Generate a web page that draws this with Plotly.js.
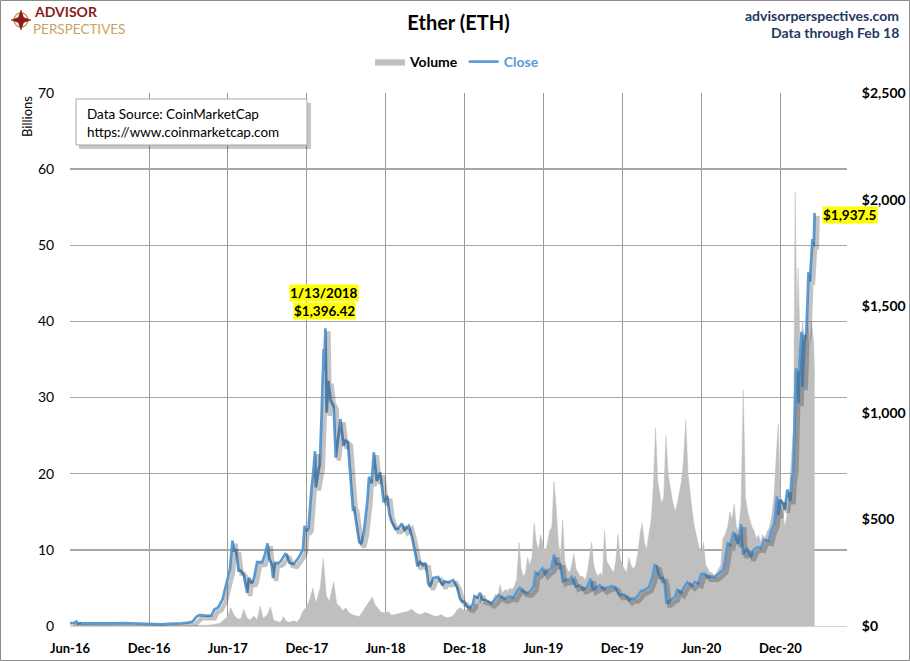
<!DOCTYPE html>
<html><head><meta charset="utf-8">
<script src="https://cdn.plot.ly/plotly-3.0.1.min.js"></script>
<style>html,body{margin:0;padding:0;background:#fff;}#chart{width:910px;height:661px;}</style>
</head><body><div id="chart"></div>
<script>
// ---------- DATA ----------
const priceDates = [
'2016-06-01','2016-06-10','2016-06-16','2016-06-18','2016-06-30','2016-07-15','2016-07-25','2016-08-01','2016-08-15','2016-09-01','2016-09-15','2016-10-01','2016-10-15','2016-11-01','2016-11-15','2016-12-01','2016-12-15','2016-12-31',
'2017-01-15','2017-02-01','2017-02-15','2017-03-01','2017-03-10','2017-03-15','2017-03-20','2017-03-26','2017-04-01','2017-04-15','2017-04-25','2017-05-01','2017-05-10','2017-05-20','2017-05-25','2017-06-01','2017-06-06','2017-06-12','2017-06-15','2017-06-20','2017-06-26','2017-07-01','2017-07-08','2017-07-16','2017-07-20','2017-07-27','2017-08-01','2017-08-08','2017-08-14','2017-08-20','2017-08-26','2017-09-01','2017-09-05','2017-09-10','2017-09-14','2017-09-18','2017-09-25','2017-10-01','2017-10-12','2017-10-15','2017-10-22','2017-11-01','2017-11-08','2017-11-15','2017-11-22','2017-11-26','2017-11-30','2017-12-05','2017-12-12','2017-12-15','2017-12-20','2017-12-22','2017-12-28','2017-12-31',
'2018-01-04','2018-01-09','2018-01-10','2018-01-13','2018-01-16','2018-01-20','2018-01-25','2018-02-01','2018-02-06','2018-02-10','2018-02-17','2018-02-24','2018-03-01','2018-03-06','2018-03-12','2018-03-18','2018-03-20','2018-03-28','2018-04-01','2018-04-06','2018-04-12','2018-04-20','2018-04-24','2018-04-30','2018-05-05','2018-05-12','2018-05-20','2018-05-28','2018-06-05','2018-06-10','2018-06-15','2018-06-24','2018-06-30','2018-07-09','2018-07-15','2018-07-25','2018-08-01','2018-08-10','2018-08-14','2018-08-20','2018-08-27','2018-09-02','2018-09-08','2018-09-12','2018-09-20','2018-10-01','2018-10-11','2018-10-15','2018-10-25','2018-11-05','2018-11-14','2018-11-20','2018-11-25','2018-11-30','2018-12-07','2018-12-14','2018-12-20','2018-12-24','2018-12-31',
'2019-01-06','2019-01-10','2019-01-20','2019-02-01','2019-02-08','2019-02-18','2019-02-24','2019-03-04','2019-03-15','2019-03-25','2019-04-02','2019-04-08','2019-04-15','2019-04-25','2019-05-01','2019-05-10','2019-05-14','2019-05-20','2019-05-30','2019-06-05','2019-06-12','2019-06-20','2019-06-26','2019-07-01','2019-07-10','2019-07-16','2019-07-22','2019-08-01','2019-08-06','2019-08-15','2019-08-25','2019-09-01','2019-09-10','2019-09-19','2019-09-24','2019-10-01','2019-10-10','2019-10-20','2019-10-26','2019-11-07','2019-11-15','2019-11-22','2019-11-25','2019-12-05','2019-12-17','2019-12-20','2019-12-31',
'2020-01-07','2020-01-14','2020-01-20','2020-01-31','2020-02-08','2020-02-14','2020-02-18','2020-02-26','2020-03-04','2020-03-08','2020-03-12','2020-03-16','2020-03-22','2020-04-01','2020-04-06','2020-04-15','2020-04-23','2020-04-30','2020-05-10','2020-05-18','2020-05-25','2020-06-01','2020-06-10','2020-06-15','2020-06-25','2020-07-01','2020-07-10','2020-07-22','2020-07-26','2020-08-01','2020-08-07','2020-08-14','2020-08-17','2020-08-25','2020-09-01','2020-09-05','2020-09-15','2020-09-23','2020-10-01','2020-10-10','2020-10-17','2020-10-25','2020-11-04','2020-11-10','2020-11-17','2020-11-23','2020-11-26','2020-12-01','2020-12-08','2020-12-11','2020-12-17','2020-12-24','2020-12-27','2020-12-31',
'2021-01-03','2021-01-06','2021-01-10','2021-01-12','2021-01-14','2021-01-19','2021-01-21','2021-01-25','2021-01-30','2021-02-04','2021-02-07','2021-02-10','2021-02-13','2021-02-16','2021-02-18'];
const priceClose = [
13.9,14.5,20.6,11.2,12.4,11.8,13.5,10.8,11.1,12.1,12.2,13.2,11.9,10.9,9.9,8.5,7.9,8.0,
9.8,10.7,12.8,16.0,19.2,28.5,42,50,50.6,48,50,77.5,87,125,170,222,265,400,350,360,260,260,240,155,225,200,225,300,300,300,335,388,315,295,225,295,295,302,338,335,296,291,310,330,360,470,445,460,650,700,820,650,730,756,
980,1300,1200,1396.42,1000,1150,1060,1030,790,860,970,845,870,860,720,540,560,450,395,385,440,585,700,670,815,680,720,580,610,525,490,455,455,480,450,470,420,330,280,300,285,295,200,185,225,230,190,210,205,215,180,130,115,115,90,84,100,140,133,
155,125,120,107,120,145,135,128,138,135,165,178,162,155,160,185,250,245,270,245,260,270,335,290,290,210,215,218,230,185,190,172,180,222,170,180,190,172,180,187,182,150,145,148,122,128,130,
144,165,167,180,223,285,282,225,225,200,110,110,122,135,170,155,185,205,188,207,200,245,245,230,232,230,242,265,310,387,380,435,430,385,477,335,365,320,360,370,366,405,400,447,480,608,520,590,573,545,640,586,685,737,
975,1208,1190,1045,1230,1380,1120,1320,1380,1660,1615,1745,1815,1780,1937.5];

const volumeDates = [
'2016-06-01','2016-09-01','2016-12-01','2017-03-01','2017-04-01','2017-04-15',
'2017-05-01','2017-05-08','2017-05-15','2017-05-22',
'2017-06-01','2017-06-08','2017-06-15','2017-06-22',
'2017-07-01','2017-07-08','2017-07-15','2017-07-22',
'2017-08-01','2017-08-08','2017-08-15','2017-08-22',
'2017-09-01','2017-09-08','2017-09-15','2017-09-22',
'2017-10-01','2017-10-08','2017-10-15','2017-10-22',
'2017-11-01','2017-11-08','2017-11-15','2017-11-22',
'2017-12-01','2017-12-08','2017-12-15','2017-12-22',
'2018-01-01','2018-01-08','2018-01-15','2018-01-22',
'2018-02-01','2018-02-08','2018-02-15','2018-02-22',
'2018-03-01','2018-03-08','2018-03-15','2018-03-22',
'2018-04-01','2018-04-08','2018-04-15','2018-04-22',
'2018-05-01','2018-05-08','2018-05-15','2018-05-22',
'2018-06-01','2018-06-08','2018-06-15','2018-06-22',
'2018-07-01','2018-07-08','2018-07-15','2018-07-22',
'2018-08-01','2018-08-08','2018-08-15','2018-08-22',
'2018-09-01','2018-09-08','2018-09-15','2018-09-22',
'2018-10-01','2018-10-08','2018-10-15','2018-10-22',
'2018-11-01','2018-11-08','2018-11-15','2018-11-22',
'2018-12-01','2018-12-08','2018-12-15','2018-12-22',
'2019-01-01','2019-01-06','2019-01-11','2019-01-16','2019-01-21','2019-01-26',
'2019-02-01','2019-02-06','2019-02-11','2019-02-16','2019-02-21','2019-02-26',
'2019-03-01','2019-03-06','2019-03-11','2019-03-16','2019-03-21','2019-03-26',
'2019-04-01','2019-04-06','2019-04-11','2019-04-16','2019-04-21','2019-04-26',
'2019-05-01','2019-05-06','2019-05-11','2019-05-16','2019-05-21','2019-05-26',
'2019-06-01','2019-06-06','2019-06-11','2019-06-16','2019-06-21','2019-06-26',
'2019-07-01','2019-07-06','2019-07-11','2019-07-16','2019-07-21','2019-07-26',
'2019-08-01','2019-08-06','2019-08-11','2019-08-16','2019-08-21','2019-08-26',
'2019-09-01','2019-09-06','2019-09-11','2019-09-16','2019-09-21','2019-09-26',
'2019-10-01','2019-10-06','2019-10-11','2019-10-16','2019-10-21','2019-10-26',
'2019-11-01','2019-11-06','2019-11-11','2019-11-16','2019-11-21','2019-11-26',
'2019-12-01','2019-12-06','2019-12-11','2019-12-16','2019-12-21','2019-12-26',
'2020-01-01','2020-01-06','2020-01-11','2020-01-16','2020-01-21','2020-01-26',
'2020-02-01','2020-02-06','2020-02-11','2020-02-16','2020-02-21','2020-02-26',
'2020-03-01','2020-03-06','2020-03-11','2020-03-16','2020-03-21','2020-03-26',
'2020-04-01','2020-04-06','2020-04-11','2020-04-16','2020-04-21','2020-04-26',
'2020-05-01','2020-05-06','2020-05-11','2020-05-16','2020-05-21','2020-05-26',
'2020-06-01','2020-06-06','2020-06-11','2020-06-16','2020-06-21','2020-06-26',
'2020-07-01','2020-07-06','2020-07-11','2020-07-16','2020-07-21','2020-07-26',
'2020-08-01','2020-08-06','2020-08-11','2020-08-16','2020-08-21','2020-08-26',
'2020-09-01','2020-09-06','2020-09-11','2020-09-16','2020-09-21','2020-09-26',
'2020-10-01','2020-10-06','2020-10-11','2020-10-16','2020-10-21','2020-10-26',
'2020-11-01','2020-11-06','2020-11-11','2020-11-16','2020-11-21','2020-11-26',
'2020-12-01','2020-12-06','2020-12-11','2020-12-16','2020-12-21','2020-12-26','2020-12-31',
'2021-01-01','2021-01-04','2021-01-08','2021-01-11','2021-01-16','2021-01-21','2021-01-26',
'2021-02-01','2021-02-06','2021-02-11','2021-02-16','2021-02-18'];
const volumeBillions = [
0.03,0.02,0.02,0.04,0.12,0.10,
0.2,0.3,0.4,0.8,
1.2,2.4,1.5,1.0,
0.9,2.2,1.1,0.8,
1.3,0.8,2.6,1.0,
1.5,2.5,0.8,0.6,
0.5,1.2,0.6,0.5,
0.7,0.5,1.0,2.0,
2.5,3.5,5.0,3.0,
5.0,8.9,4.0,3.2,
5.8,3.0,2.6,2.0,
2.4,1.8,1.5,1.4,
1.2,1.8,2.5,3.0,
3.8,2.8,2.3,1.8,
1.7,1.9,1.4,1.5,
1.6,1.7,1.8,1.9,
2.2,1.8,1.6,1.5,
1.8,1.6,1.5,1.3,
1.3,1.5,1.2,1.1,
1.2,1.6,2.2,2.4,
2.0,2.3,2.8,3.0,
2.8,3.5,2.9,3.2,3.0,3.3,
3.0,3.6,4.2,3.8,5.4,4.4,
4.5,4.8,4.6,5.0,4.8,5.2,
6.2,11.0,7.5,6.5,7.0,9.0,
8.0,9.0,13.5,11.0,10.0,12.0,
10.5,9.5,11.0,12.5,13.0,19.0,
15.5,11.0,9.0,14.0,8.5,7.5,
7.0,8.0,9.5,7.5,7.0,6.5,
6.5,6.0,7.0,9.0,11.0,8.0,
7.0,6.5,7.0,6.5,12.5,8.5,
8.0,7.5,7.0,8.5,12.0,9.0,
8.0,7.5,7.0,9.0,8.0,7.5,
8.0,9.5,12.0,13.5,11.0,10.0,
12.0,14.0,18.5,26.0,19.0,17.0,
16.0,17.0,25.0,20.0,18.0,16.5,
15.0,16.0,17.5,19.0,22.0,27.0,
20.0,17.0,15.0,13.0,11.5,10.5,
9.5,11.0,8.0,7.5,7.0,7.0,
6.5,7.0,7.5,8.0,11.5,12.0,
13.0,15.0,14.0,16.0,13.0,12.5,
16.0,31.0,17.0,15.0,14.0,13.0,
12.5,11.5,12.0,11.0,12.0,11.5,
12.5,13.0,14.5,17.0,22.0,26.6,
16.0,15.0,13.0,14.5,17.0,21.0,26.0,
30.0,57.0,40.0,47.0,35.0,40.0,37.0,
42.0,36.0,40.0,37.0,32.7];

const xTickDates = ['2016-06-01','2016-12-01','2017-06-01','2017-12-01','2018-06-01','2018-12-01','2019-06-01','2019-12-01','2020-06-01','2020-12-01'];
const xTickLabels = ['Jun-16','Dec-16','Jun-17','Dec-17','Jun-18','Dec-18','Jun-19','Dec-19','Jun-20','Dec-20'];
const leftTicks = [0,10,20,30,40,50,60,70];
const rightTicks = [0,500,1000,1500,2000,2500];
const rightTickLabels = ['$0','$500','$1,000','$1,500','$2,000','$2,500'];
const peakDate = '2018-01-13', peakLabel = '1/13/2018', peakValue = 1396.42, peakValueLabel = '$1,396.42';
const lastDate = '2021-02-18', lastValue = 1937.5, lastValueLabel = '$1,937.5';

// ---------- LAYOUT HELPERS (pixel -> paper) ----------
const L = 70, R = 847, T = 93, B = 626;
const W = R - L, H = B - T;
const px = x => (x - L) / W;
const py = y => (B - y) / H;
const FONT = 'Lato, "Open Sans", sans-serif';
const X_RANGE = ['2016-06-01', '2021-05-04'];
// shadow offset: same scales shifted by ~3 px right / down
const X_SHADOW_RANGE = ['2016-05-25', '2021-04-27'];
const Y2_RANGE = [0, 2500], Y3_SHADOW_RANGE = [14, 2514];

function starPath(cx, cy, r, ri) {
  const pts = [[cx, cy - r],[cx + ri, cy - ri],[cx + r, cy],[cx + ri, cy + ri],[cx, cy + r],[cx - ri, cy + ri],[cx - r, cy],[cx - ri, cy - ri]];
  return 'M' + pts.map(p => px(p[0]).toFixed(5) + ',' + py(p[1]).toFixed(5)).join(' L') + ' Z';
}

const traces = [
  {x: volumeDates, y: volumeBillions, type: 'scatter', mode: 'lines', name: '<b>Volume</b>',
   fill: 'tozeroy', fillcolor: '#BFBFBF', line: {color: '#BFBFBF', width: 0.5}, xaxis: 'x', yaxis: 'y', hoverinfo: 'skip'},
  {x: priceDates, y: priceClose, type: 'scatter', mode: 'lines', name: 'shadow', showlegend: false,
   line: {color: 'rgba(40,40,40,0.28)', width: 4.5}, xaxis: 'x2', yaxis: 'y3', hoverinfo: 'skip'},
  {x: priceDates, y: priceClose, type: 'scatter', mode: 'lines', name: '<b><span style="color:#5B9BD5">Close</span></b>',
   line: {color: '#5B9BD5', width: 2.7}, xaxis: 'x', yaxis: 'y2', hoverinfo: 'skip'}
];

const layout = {
  width: 910, height: 661,
  margin: {l: L, r: 910 - R, t: T, b: 661 - B},
  paper_bgcolor: '#fff', plot_bgcolor: '#fff',
  font: {family: FONT, color: '#000', size: 13},
  title: {text: '<b>Ether (ETH)</b>', x: 0.5, xref: 'paper', xanchor: 'center', y: 1 - 23/661, yanchor: 'middle',
          font: {family: FONT, size: 20, color: '#000'}},
  showlegend: true,
  legend: {orientation: 'h', x: px(457), xanchor: 'center', y: py(62), yanchor: 'middle',
           font: {family: FONT, size: 14, color: '#000'}, bgcolor: 'rgba(0,0,0,0)', traceorder: 'normal'},
  xaxis: {type: 'date', range: X_RANGE, tickmode: 'array', tickvals: xTickDates, ticktext: xTickLabels,
          showgrid: true, gridcolor: '#999999', gridwidth: 1, showline: true, linecolor: '#D0D0D0', linewidth: 1,
          ticks: 'outside', ticklen: 10, tickcolor: 'rgba(0,0,0,0)',
          tickfont: {family: FONT, size: 13, color: '#000', weight: 'bold'}, zeroline: false, fixedrange: true},
  xaxis2: {type: 'date', range: X_SHADOW_RANGE, overlaying: 'x', visible: false, showgrid: false, zeroline: false, fixedrange: true},
  yaxis: {range: [0, 70], tickmode: 'array', tickvals: leftTicks, showgrid: true, gridcolor: '#A6A6A6', gridwidth: 1.3,
          zeroline: false, showline: false, ticks: 'outside', ticklen: 12, tickcolor: 'rgba(0,0,0,0)',
          tickfont: {family: FONT, size: 14, color: '#000'}, fixedrange: true},
  yaxis2: {range: Y2_RANGE, tickmode: 'array', tickvals: rightTicks, ticktext: rightTickLabels, overlaying: 'y', side: 'right',
           showgrid: false, zeroline: false, showline: false, ticks: 'outside', ticklen: 11, tickcolor: 'rgba(0,0,0,0)',
           tickfont: {family: FONT, size: 14, color: '#000', weight: 'bold'}, fixedrange: true},
  yaxis3: {range: Y3_SHADOW_RANGE, overlaying: 'y', visible: false, showgrid: false, zeroline: false, fixedrange: true},
  shapes: [
    {type: 'rect', xref: 'paper', yref: 'paper', x0: px(0.5), x1: px(909.5), y0: py(0.5), y1: py(660.5),
     line: {color: '#8C8C8C', width: 1}, fillcolor: 'rgba(0,0,0,0)', layer: 'above'},
    {type: 'rect', xref: 'paper', yref: 'paper', x0: px(79), x1: px(311), y0: py(103), y1: py(149),
     line: {width: 0}, fillcolor: 'rgba(0,0,0,0.22)', layer: 'above'},
    {type: 'rect', xref: 'paper', yref: 'paper', x0: px(76), x1: px(307), y0: py(99), y1: py(145),
     line: {color: '#A6A6A6', width: 1}, fillcolor: '#FFFFFF', layer: 'above'},
    {type: 'circle', xref: 'paper', yref: 'paper', x0: px(14), x1: px(28), y0: py(13), y1: py(27),
     line: {color: '#C9A45C', width: 1.5}, fillcolor: 'rgba(0,0,0,0)', layer: 'above'},
    {type: 'path', xref: 'paper', yref: 'paper', path: starPath(21, 20, 10, 2.6),
     line: {color: '#8B1A1A', width: 0.5}, fillcolor: '#8B1A1A', layer: 'above'}
  ],
  annotations: [
    {xref: 'paper', yref: 'paper', x: px(33), y: py(12), xanchor: 'left', yanchor: 'middle', showarrow: false, borderpad: 0,
     text: '<b>ADVISOR</b>', font: {family: FONT, size: 14, color: '#8B1A1A'}},
    {xref: 'paper', yref: 'paper', x: px(32), y: py(29), xanchor: 'left', yanchor: 'middle', showarrow: false, borderpad: 0,
     text: 'PERSPECTIVES', font: {family: FONT, size: 13.5, color: '#C9A45C'}},
    {xref: 'paper', yref: 'paper', x: px(901), y: py(15), xanchor: 'right', yanchor: 'middle', showarrow: false,
     text: '<b>advisorperspectives.com</b>', font: {family: FONT, size: 14, color: '#1F3864'}},
    {xref: 'paper', yref: 'paper', x: px(901), y: py(33), xanchor: 'right', yanchor: 'middle', showarrow: false,
     text: '<b>Data through Feb 18</b>', font: {family: FONT, size: 14, color: '#1F3864'}},
    {xref: 'paper', yref: 'paper', x: px(27), y: py(117), xanchor: 'center', yanchor: 'middle', showarrow: false,
     text: 'Billions', textangle: -90, font: {family: FONT, size: 13, color: '#000'}},
    {xref: 'paper', yref: 'paper', x: px(85), y: py(114), xanchor: 'left', yanchor: 'middle', showarrow: false,
     text: 'Data Source: CoinMarketCap', font: {family: FONT, size: 13.5, color: '#000'}},
    {xref: 'paper', yref: 'paper', x: px(85), y: py(132), xanchor: 'left', yanchor: 'middle', showarrow: false,
     text: 'https://www.coinmarketcap.com', font: {family: FONT, size: 13.5, color: '#000'}},
    {xref: 'x', yref: 'y2', x: peakDate, y: peakValue, yshift: 35, xshift: -1, showarrow: false,
     text: '<b>' + peakLabel + '</b>', bgcolor: '#FFFF00', borderpad: 0, font: {family: FONT, size: 13.5, color: '#000'}},
    {xref: 'x', yref: 'y2', x: peakDate, y: peakValue, yshift: 17, xshift: -1, showarrow: false,
     text: '<b>' + peakValueLabel + '</b>', bgcolor: '#FFFF00', borderpad: 0, font: {family: FONT, size: 13.5, color: '#000'}},
    {xref: 'x', yref: 'y2', x: lastDate, y: lastValue, xanchor: 'left', xshift: 7, yshift: -2, showarrow: false,
     text: '<b>' + lastValueLabel + '</b>', bgcolor: '#FFFF00', borderpad: 0, font: {family: FONT, size: 13.5, color: '#000'}}
  ]
};

Plotly.newPlot('chart', traces, layout, {displayModeBar: false, staticPlot: true});
</script>
</body></html>
